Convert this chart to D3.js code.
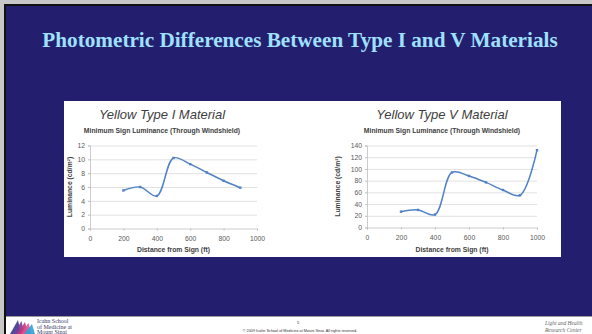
<!DOCTYPE html>
<html>
<head>
<meta charset="utf-8">
<script src="https://cdn.jsdelivr.net/npm/d3@7"></script>
<style>
  html, body { margin: 0; padding: 0; background: #fff; }
  svg { display: block; }
</style>
</head>
<body>
<div id="slide"></div>
<script>
// ── Data ─────────────────────────────────────
const TITLE       = "Photometric Differences Between Type I and V Materials";
const SUBTITLE    = "Minimum Sign Luminance (Through Windshield)";
const X_TITLE     = "Distance from Sign (ft)";
const Y_TITLE     = "Luminance (cd/m²)";
const X_TICKS     = [0, 200, 400, 600, 800, 1000];

const TYPE1_NAME  = "Yellow Type I Material";
const TYPE1_DIST  = [200, 300, 400, 500, 600, 700, 800, 900];
const TYPE1_LUM   = [5.5, 6.0, 4.7, 10.2, 9.3, 8.1, 6.9, 5.9];
const TYPE1_YTICK = [0, 2, 4, 6, 8, 10, 12];

const TYPE5_NAME  = "Yellow Type V Material";
const TYPE5_DIST  = [200, 300, 400, 500, 600, 700, 800, 900, 1000];
const TYPE5_LUM   = [27, 30, 22, 94, 88, 77, 64, 55, 132];
const TYPE5_YTICK = [0, 20, 40, 60, 80, 100, 120, 140];

// ── Style ────────────────────────────────────
const W = 592, H = 334;
const NAVY      = "#231f6e";
const LINE_BLUE = "#5082c4";
const GRID      = "#d9d9d9";
const TXT       = "#595959";
const FONT      = "'Liberation Sans', Arial, sans-serif";

const svg = d3.select("#slide").append("svg")
  .attr("width", W).attr("height", H);

// slide frame
svg.append("rect").attr("width", W).attr("height", H).attr("fill", "#fff");
svg.append("rect").attr("x", 0).attr("y", 0).attr("width", W).attr("height", 4).attr("fill", "#c8c8c8");
svg.append("rect").attr("x", 0).attr("y", 0).attr("width", 4).attr("height", H).attr("fill", "#c8c8c8");
svg.append("rect").attr("x", 4).attr("y", 4).attr("width", W - 4).attr("height", H - 4).attr("fill", "#111");
svg.append("rect").attr("x", 6).attr("y", 6).attr("width", W - 6).attr("height", 310).attr("fill", NAVY);
svg.append("rect").attr("x", 6).attr("y", 316).attr("width", W - 6).attr("height", 1).attr("fill", "#9a9a9a");
svg.append("rect").attr("x", 6).attr("y", 317).attr("width", W - 6).attr("height", H - 317).attr("fill", "#fff");

// main title
svg.append("text").attr("x", 300).attr("y", 47)
  .attr("text-anchor", "middle")
  .attr("font-family", "'Liberation Serif', 'Times New Roman', serif")
  .attr("font-weight", "bold").attr("font-size", "21.2px")
  .attr("fill", "#9fe0ff").text(TITLE);

// white chart panel
svg.append("rect").attr("x", 64).attr("y", 101).attr("width", 497).attr("height", 156)
  .attr("fill", "#fff");

// ── Chart drawing ────────────────────────────
function drawChart(cfg) {
  const x = d3.scaleLinear().domain([0, 1000]).range([cfg.x0, cfg.x1]);
  const y = d3.scaleLinear().domain([0, d3.max(cfg.yTicks)]).range([cfg.y0, cfg.y1]);
  const g = svg.append("g");

  // grid
  g.append("g").attr("transform", `translate(${cfg.x0},0)`)
    .call(d3.axisLeft(y).tickValues(cfg.yTicks.slice(1)).tickSize(-(cfg.x1 - cfg.x0)).tickFormat(""))
    .call(a => {
      a.select(".domain").remove();
      a.selectAll(".tick line").attr("stroke", GRID).attr("stroke-width", 0.8);
    });

  // y axis
  const ya = g.append("g").attr("transform", `translate(${cfg.x0},0)`)
    .call(d3.axisLeft(y).tickValues(cfg.yTicks).tickSize(2).tickPadding(3));
  ya.select(".domain").attr("stroke", "#bfbfbf").attr("stroke-width", 0.8);
  ya.selectAll(".tick line").attr("stroke", "#bfbfbf");
  ya.selectAll("text").attr("font-family", FONT).attr("font-size", "6.8px").attr("fill", TXT);

  // x axis
  const xa = g.append("g").attr("transform", `translate(0,${cfg.y0})`)
    .call(d3.axisBottom(x).tickValues(X_TICKS).tickFormat(d3.format("d")).tickSize(2).tickPadding(6));
  xa.select(".domain").attr("stroke", "#bfbfbf").attr("stroke-width", 0.8);
  xa.selectAll(".tick line").attr("stroke", "#bfbfbf");
  xa.selectAll("text").attr("font-family", FONT).attr("font-size", "6.8px").attr("fill", TXT);

  // line
  const pts = cfg.xs.map((d, i) => [d, cfg.ys[i]]);
  g.append("path").datum(pts)
    .attr("fill", "none").attr("stroke", LINE_BLUE).attr("stroke-width", 1.5)
    .attr("d", d3.line().x(d => x(d[0])).y(d => y(d[1])).curve(d3.curveCatmullRom.alpha(0.5)));
  g.selectAll(".pt").data(pts).join("rect")
    .attr("x", d => x(d[0]) - 1.2).attr("y", d => y(d[1]) - 1.2)
    .attr("width", 2.4).attr("height", 2.4).attr("fill", LINE_BLUE);

  // titles
  g.append("text").attr("x", cfg.tx).attr("y", 119)
    .attr("text-anchor", "middle").attr("font-family", FONT)
    .attr("font-style", "italic").attr("font-size", "13px").attr("fill", "#404040")
    .text(cfg.name);
  g.append("text").attr("x", cfg.tx).attr("y", 133)
    .attr("text-anchor", "middle").attr("font-family", FONT)
    .attr("font-weight", "bold").attr("font-size", "6.8px").attr("fill", "#404040")
    .text(SUBTITLE);
  g.append("text").attr("x", (cfg.x0 + cfg.x1) / 2).attr("y", 252)
    .attr("text-anchor", "middle").attr("font-family", FONT)
    .attr("font-weight", "bold").attr("font-size", "6.8px").attr("fill", "#404040")
    .text(X_TITLE);
  g.append("text")
    .attr("transform", `translate(${cfg.yt},${(cfg.y0 + cfg.y1) / 2}) rotate(-90)`)
    .attr("text-anchor", "middle").attr("font-family", FONT)
    .attr("font-weight", "bold").attr("font-size", "6.8px").attr("fill", "#404040")
    .text(Y_TITLE);
}

drawChart({ name: TYPE1_NAME, xs: TYPE1_DIST, ys: TYPE1_LUM, yTicks: TYPE1_YTICK,
  x0: 90, x1: 257, y0: 228.5, y1: 145.5, tx: 162, yt: 72 });
drawChart({ name: TYPE5_NAME, xs: TYPE5_DIST, ys: TYPE5_LUM, yTicks: TYPE5_YTICK,
  x0: 367, x1: 537, y0: 227.5, y1: 145.5, tx: 442, yt: 340 });

// ── Footer ───────────────────────────────────
const logo = svg.append("g").attr("transform", "translate(10,319)");
["#3a3a8c", "#7a3d9a", "#c2357f", "#e0508f", "#2fa3d6"].forEach((c, i) => {
  logo.append("path")
    .attr("d", `M${i * 3.5},15 L${8 + i * 3.5},${1 + i} L${11 + i * 3.5},15 Z`)
    .attr("fill", c).attr("opacity", 0.9);
});
[["Icahn School", 323], ["of Medicine at", 328.5], ["Mount Sinai", 334]].forEach(([t, yy]) => {
  svg.append("text").attr("x", 37).attr("y", yy)
    .attr("font-family", "'Liberation Serif', serif").attr("font-size", "6px").attr("fill", "#3a3a6a")
    .text(t);
});
svg.append("text").attr("x", 298).attr("y", 324).attr("text-anchor", "middle")
  .attr("font-family", FONT).attr("font-size", "4px").attr("fill", "#333").text("5");
svg.append("text").attr("x", 300).attr("y", 332).attr("text-anchor", "middle")
  .attr("font-family", FONT).attr("font-size", "3.8px").attr("fill", "#333")
  .text("© 2009 Icahn School of Medicine at Mount Sinai. All rights reserved.");
svg.append("text").attr("x", 545).attr("y", 325)
  .attr("font-family", "'Liberation Serif', serif").attr("font-style", "italic")
  .attr("font-size", "5.5px").attr("fill", "#666").text("Light and Health");
svg.append("text").attr("x", 545).attr("y", 331.5)
  .attr("font-family", "'Liberation Serif', serif").attr("font-style", "italic")
  .attr("font-size", "5.5px").attr("fill", "#666").text("Research Center");
</script>
</body>
</html>
